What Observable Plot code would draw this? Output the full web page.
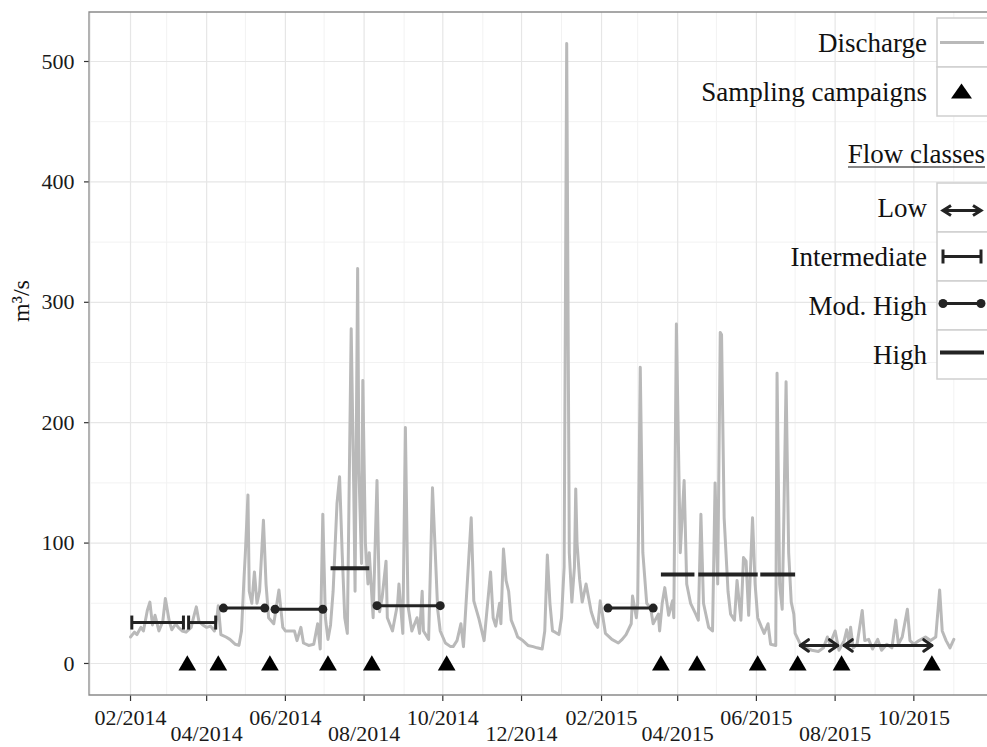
<!DOCTYPE html>
<html><head><meta charset="utf-8">
<script src="https://cdn.jsdelivr.net/npm/d3@7"></script>
<script src="https://cdn.jsdelivr.net/npm/@observablehq/plot@0.6"></script>
<style>body{margin:0;background:#fff;} svg{display:block;}</style>
</head><body><div id="chart"></div>
<script>
// ---------------- data ----------------
const startDate = "2014-02-01"; // day 0 of the discharge record
// [day since startDate, discharge m3/s]
const discharge = [[0,22],[3,26],[5,24],[8,30],[10,27],[13,44],[15,51],[17,32],[19,40],[22,27],[25,35],[27,54],[30,35],[32,28],[35,33],[37,30],[40,27],[43,26],[47,30],[49,39],[51,47],[53,35],[56,32],[59,30],[62,31],[65,27],[67,39],[68,48],[70,24],[74,22],[77,20],[81,16],[84,15],[86,27],[88,72],[89,92],[91,140],[92,60],[94,50],[96,76],[98,50],[100,60],[103,119],[105,66],[107,38],[111,33],[115,61],[118,30],[120,27],[124,27],[127,27],[129,19],[132,30],[134,17],[138,15],[142,16],[145,33],[147,12],[149,124],[151,38],[153,20],[155,32],[157,60],[160,133],[162,155],[164,92],[166,38],[168,25],[171,278],[173,143],[174,60],[176,328],[177,160],[179,83],[180,235],[182,100],[184,66],[185,92],[188,38],[191,152],[193,43],[195,55],[198,85],[199,38],[203,27],[207,50],[208,66],[211,25],[213,196],[215,48],[218,27],[222,38],[224,25],[226,60],[227,27],[231,20],[234,146],[236,96],[238,45],[240,27],[244,17],[248,14],[250,14],[253,19],[256,33],[258,14],[264,121],[266,52],[270,37],[274,19],[279,76],[281,38],[283,31],[286,50],[287,33],[289,95],[291,69],[293,60],[295,36],[298,28],[300,22],[304,19],[308,15],[312,14],[315,13],[319,12],[321,27],[323,90],[325,50],[327,27],[329,26],[332,24],[334,38],[336,80],[338,515],[340,92],[342,51],[344,80],[345,145],[346,100],[348,70],[350,51],[353,66],[357,43],[360,33],[362,30],[364,52],[367,32],[368,25],[373,20],[378,17],[381,20],[384,24],[388,33],[389,56],[392,38],[393,50],[395,246],[397,92],[400,50],[403,46],[405,33],[409,41],[410,27],[412,50],[414,63],[417,40],[420,52],[421,38],[423,282],[426,92],[429,152],[431,66],[434,50],[438,41],[440,36],[442,124],[444,50],[448,30],[451,27],[453,150],[455,66],[457,275],[458,273],[460,121],[463,60],[465,41],[468,36],[470,69],[473,36],[475,88],[477,85],[479,40],[482,121],[484,66],[486,38],[489,30],[491,25],[494,33],[496,16],[500,15],[501,241],[503,66],[505,45],[506,104],[508,234],[510,92],[512,51],[514,41],[515,25],[519,16],[523,13],[528,11],[533,10],[537,13],[540,22],[542,16],[546,27],[549,11],[553,19],[555,28],[557,16],[558,30],[560,13],[563,16],[567,44],[569,19],[572,20],[575,12],[579,20],[582,11],[586,16],[590,13],[593,36],[595,16],[598,22],[602,45],[604,19],[607,16],[611,19],[616,22],[620,19],[624,22],[627,61],[629,27],[632,19],[635,13],[638,20]];

const samplingDates = ["2014-03-17","2014-04-10","2014-05-20","2014-07-04","2014-08-07","2014-10-04","2015-03-19","2015-04-16","2015-06-02","2015-07-03","2015-08-06","2015-10-15"];

// [start, end, discharge level]
const flowLow = [["2015-07-05","2015-08-03",15],["2015-08-08","2015-10-15",15]];
const flowIntermediate = [["2014-02-02","2014-03-14",34],["2014-03-18","2014-04-08",34]];
const flowModHigh = [["2014-04-14","2014-05-16",46],["2014-05-24","2014-06-30",45],["2014-08-11","2014-09-29",48],["2015-02-06","2015-03-13",46]];
const flowHigh = [["2014-07-06","2014-08-05",79],["2015-03-19","2015-04-14",74],["2015-04-17","2015-06-02",74],["2015-06-04","2015-07-01",74]];

const yTicks = [0,100,200,300,400,500];
const yMinorTicks = [50,150,250,350,450];
const xTickDates = ["2014-02-01","2014-04-01","2014-06-01","2014-08-01","2014-10-01","2014-12-01","2015-02-01","2015-04-01","2015-06-01","2015-08-01","2015-10-01"];
const xMinorDates = ["2014-01-01","2014-03-01","2014-05-01","2014-07-01","2014-09-01","2014-11-01","2015-01-01","2015-03-01","2015-05-01","2015-07-01","2015-09-01","2015-11-01"];

const yTitle = "m³/s";
const legendTop = ["Discharge","Sampling campaigns"];
const legendFlowTitle = "Flow classes";
const legendFlow = ["Low","Intermediate","Mod. High","High"];

// ---------------- build ----------------
const FONT = '"Liberation Serif", "Times New Roman", Times, serif';
const parse = s => new Date(s + "T00:00:00Z");
const start = parse(startDate);
const flow = discharge.map(([d, v]) => ({date: d3.utcDay.offset(start, d), value: v}));
const seg = arr => arr.map(([a, b, v]) => ({x1: parse(a), x2: parse(b), y: v}));
const low = seg(flowLow), inter = seg(flowIntermediate), modh = seg(flowModHigh), high = seg(flowHigh);
const xMajor = xTickDates.map(parse);
const xMinor = xMinorDates.map(parse);
const fmt = d3.utcFormat("%m/%Y");
const INK = "#232323";
const GREY = "#b9b9b9";

const capSymbol = {draw(ctx) { ctx.moveTo(0, -7); ctx.lineTo(0, 7); }};

function decorations(index, scales, values, dim) {
  const g = d3.create("svg:g");
  const L = dim.marginLeft, T = dim.marginTop, B = dim.height - dim.marginBottom, R = dim.width;
  // panel border (right edge lies outside the picture)
  g.append("path").attr("d", `M${R + 5},${T}H${L}V${B}H${R + 5}`)
    .attr("fill", "none").attr("stroke", "#8a8a8a").attr("stroke-width", 1.3);
  // y title
  g.append("text").attr("transform", "translate(29,301) rotate(-90)")
    .attr("text-anchor", "middle").attr("font-family", FONT).attr("font-size", 24).attr("fill", "#111")
    .text(yTitle);

  // legend
  const lg = g.append("g").attr("font-family", FONT).attr("font-size", 27).attr("fill", "#111");
  const bx = 937, bw = 60, bh = 49, tx = 927;
  const box = y => lg.append("rect").attr("x", bx).attr("y", y).attr("width", bw).attr("height", bh)
    .attr("fill", "#fff").attr("stroke", "#cfcfcf").attr("stroke-width", 1.5);
  const label = (y, t) => lg.append("text").attr("x", tx).attr("y", y + bh / 2 + 9).attr("text-anchor", "end").text(t);
  const top1 = 18, top2 = 183;
  legendTop.forEach((t, i) => { box(top1 + i * bh); label(top1 + i * bh, t); });
  // discharge key
  lg.append("line").attr("x1", bx + 3).attr("x2", bx + 47).attr("y1", top1 + bh / 2).attr("y2", top1 + bh / 2)
    .attr("stroke", GREY).attr("stroke-width", 3);
  // sampling key
  const cy2 = top1 + bh * 1.5, cx = bx + 24.5;
  lg.append("path").attr("d", `M${cx - 10.5},${cy2 + 7}L${cx + 10.5},${cy2 + 7}L${cx},${cy2 - 8}Z`).attr("fill", "#000");
  // flow title
  lg.append("text").attr("x", 985).attr("y", 163).attr("text-anchor", "end").text(legendFlowTitle);
  lg.append("line").attr("x1", 848).attr("x2", 985).attr("y1", 167).attr("y2", 167).attr("stroke", "#111").attr("stroke-width", 1.2);
  legendFlow.forEach((t, i) => { box(top2 + i * bh); label(top2 + i * bh, t); });
  const kx1 = bx + 6, kx2 = bx + 44;
  const keyLine = (cy, w) => lg.append("line").attr("x1", kx1).attr("x2", kx2).attr("y1", cy).attr("y2", cy)
    .attr("stroke", INK).attr("stroke-width", w);
  // low: double arrow
  let cy = top2 + bh / 2 + 3;
  keyLine(cy, 3);
  lg.append("path").attr("d", `M${kx1 + 8},${cy - 5}L${kx1},${cy}L${kx1 + 8},${cy + 5}M${kx2 - 8},${cy - 5}L${kx2},${cy}L${kx2 - 8},${cy + 5}`)
    .attr("fill", "none").attr("stroke", INK).attr("stroke-width", 3);
  // intermediate
  cy = top2 + bh * 1.5;
  keyLine(cy, 3);
  lg.append("path").attr("d", `M${kx1},${cy - 7}V${cy + 7}M${kx2},${cy - 7}V${cy + 7}`).attr("stroke", INK).attr("stroke-width", 3);
  // mod high
  cy = top2 + bh * 2.5 - 2;
  keyLine(cy, 3);
  lg.append("circle").attr("cx", kx1).attr("cy", cy).attr("r", 4.5).attr("fill", INK);
  lg.append("circle").attr("cx", kx2).attr("cy", cy).attr("r", 4.5).attr("fill", INK);
  // high
  cy = top2 + bh * 3.5 - 2;
  lg.append("line").attr("x1", kx1 - 3).attr("x2", kx2 + 3).attr("y1", cy).attr("y2", cy).attr("stroke", INK).attr("stroke-width", 4);
  return g.node();
}

const plot = Plot.plot({
  width: 987,
  height: 747,
  marginLeft: 89,
  marginRight: 0,
  marginTop: 12,
  marginBottom: 52,
  style: {fontFamily: FONT, fontSize: "22px", color: "#1a1a1a", background: "#fff"},
  x: {type: "utc", domain: [new Date(Date.UTC(2013, 11, 31, 5)), new Date(Date.UTC(2015, 10, 27, 2))]},
  y: {domain: [-26.6, 540.7]},
  marks: [
    Plot.ruleX(xMinor, {stroke: "#f2f2f2", strokeWidth: 1}),
    Plot.ruleY(yMinorTicks, {stroke: "#f2f2f2", strokeWidth: 1}),
    Plot.ruleX(xMajor, {stroke: "#e6e6e6", strokeWidth: 1.2}),
    Plot.ruleY(yTicks, {stroke: "#e6e6e6", strokeWidth: 1.2}),
    Plot.line(flow, {x: "date", y: "value", stroke: GREY, strokeWidth: 3, strokeLinejoin: "round"}),
    Plot.dot(samplingDates, {x: d => parse(d), y: () => 0, symbol: "triangle", r: 6.6, fill: "#000", stroke: null, dy: 2}),
    // flow classes
    Plot.link(inter, {x1: "x1", x2: "x2", y1: "y", y2: "y", stroke: INK, strokeWidth: 3}),
    Plot.dot(inter, {x: "x1", y: "y", symbol: capSymbol, fill: "none", stroke: INK, strokeWidth: 3}),
    Plot.dot(inter, {x: "x2", y: "y", symbol: capSymbol, fill: "none", stroke: INK, strokeWidth: 3}),
    Plot.link(modh, {x1: "x1", x2: "x2", y1: "y", y2: "y", stroke: INK, strokeWidth: 3}),
    Plot.dot(modh, {x: "x1", y: "y", r: 4.5, fill: INK, stroke: null}),
    Plot.dot(modh, {x: "x2", y: "y", r: 4.5, fill: INK, stroke: null}),
    Plot.link(high, {x1: "x1", x2: "x2", y1: "y", y2: "y", stroke: INK, strokeWidth: 4}),
    Plot.arrow(low, {x1: "x1", x2: "x2", y1: "y", y2: "y", stroke: INK, strokeWidth: 3, headLength: 5, headAngle: 70}),
    Plot.arrow(low, {x1: "x2", x2: "x1", y1: "y", y2: "y", stroke: INK, strokeWidth: 3, headLength: 5, headAngle: 70}),
    // axes
    Plot.axisY(yTicks, {tickSize: 5, tickPadding: 10, label: null, stroke: "#333", strokeWidth: 1.2}),
    Plot.axisX(xMajor.filter((d, i) => i % 2 === 0), {tickSize: 6, tickPadding: 8, tickFormat: fmt, label: null, stroke: "#333", strokeWidth: 1.2}),
    Plot.axisX(xMajor.filter((d, i) => i % 2 === 1), {tickSize: 6, tickPadding: 24, tickFormat: fmt, label: null, stroke: "#333", strokeWidth: 1.2}),
    decorations
  ]
});
document.getElementById("chart").appendChild(plot);
</script>
</body></html>
